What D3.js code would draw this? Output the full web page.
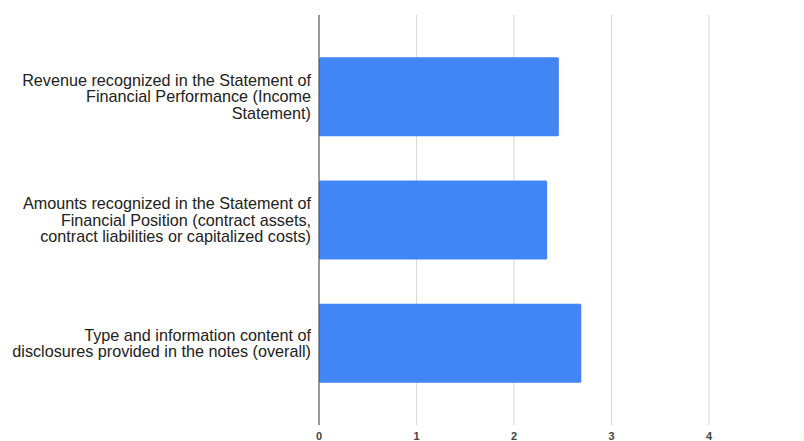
<!DOCTYPE html>
<html>
<head>
<meta charset="utf-8">
<script src="https://cdn.jsdelivr.net/npm/d3@7/dist/d3.min.js"></script>
<style>
  html, body { margin: 0; padding: 0; background: #fff; }
  svg { display: block; font-family: Arial, "Liberation Sans", sans-serif; }
</style>
</head>
<body>
<svg id="chart" width="804" height="441"></svg>
<script>
// Category labels, each broken into its display lines
const categories = [
  ["Revenue recognized in the Statement of", "Financial Performance (Income", "Statement)"],
  ["Amounts recognized in the Statement of", "Financial Position (contract assets,", "contract liabilities or capitalized costs)"],
  ["Type and information content of", "disclosures provided in the notes (overall)"]
];
const values = [2.46, 2.34, 2.69];
const xTicks = [0, 1, 2, 3, 4, 5];

const svg = d3.select("#chart");

const x = d3.scaleLinear().domain([0, 5]).range([319, 806.5]);
const y = d3.scaleBand()
  .domain(d3.range(categories.length))
  .range([35, 405])
  .paddingInner(0.36)
  .paddingOuter(0.18);

const gridTop = 15, gridBottom = 425;

// vertical gridlines
svg.append("g")
  .selectAll("line")
  .data(xTicks.filter(d => d > 0))
  .join("line")
  .attr("x1", d => x(d)).attr("x2", d => x(d))
  .attr("y1", gridTop).attr("y2", gridBottom)
  .attr("stroke", "#dcdcdc")
  .attr("stroke-width", 1.2);

// bars
svg.append("g")
  .selectAll("rect")
  .data(values)
  .join("rect")
  .attr("x", x(0))
  .attr("y", (d, i) => y(i))
  .attr("width", d => x(d) - x(0))
  .attr("height", y.bandwidth())
  .attr("rx", 1.5)
  .attr("fill", "#4285f4");

// baseline at zero
svg.append("line")
  .attr("x1", x(0)).attr("x2", x(0))
  .attr("y1", gridTop).attr("y2", gridBottom)
  .attr("stroke", "#555")
  .attr("stroke-width", 1.2);

// x tick labels
svg.append("g")
  .selectAll("text")
  .data(xTicks)
  .join("text")
  .attr("x", d => x(d))
  .attr("y", 440)
  .attr("text-anchor", "middle")
  .attr("font-size", 11)
  .attr("font-weight", "bold")
  .attr("fill", "#444")
  .text(d => d);

// category labels, right-aligned against the axis
const lineH = 16.5;
const labels = svg.append("g")
  .selectAll("text")
  .data(categories)
  .join("text")
  .attr("text-anchor", "end")
  .attr("font-size", 16.2)
  .attr("fill", "#222");

labels.each(function(lines, i) {
  const cy = y(i) + y.bandwidth() / 2;
  const startY = cy - (lines.length - 1) * lineH / 2 + 5.5;
  d3.select(this).selectAll("tspan")
    .data(lines)
    .join("tspan")
    .attr("x", 311)
    .attr("y", (d, k) => startY + k * lineH)
    .text(d => d);
});
</script>
</body>
</html>
